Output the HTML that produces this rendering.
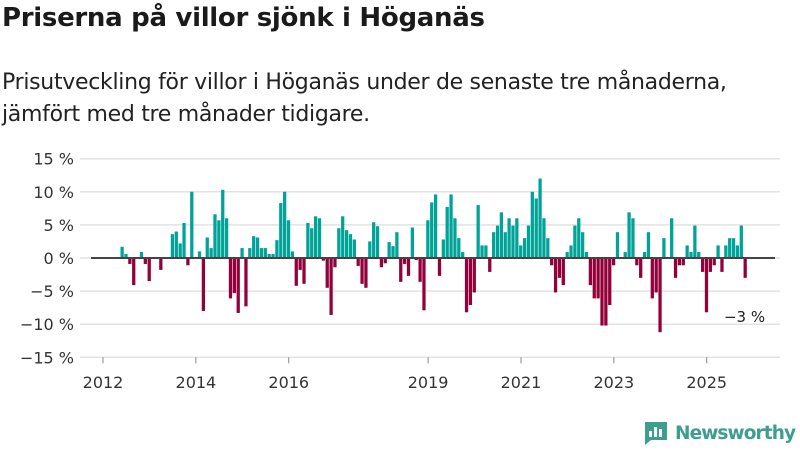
<!DOCTYPE html>
<html><head><meta charset="utf-8">
<style>
body{margin:0;width:800px;height:450px;background:#fff;font-family:"Liberation Sans","DejaVu Sans",sans-serif;overflow:hidden;position:relative}
h1{position:absolute;left:2px;top:3px;margin:0;font-size:26px;font-weight:bold;color:#1a1a1a;font-family:"DejaVu Sans",sans-serif;letter-spacing:-0.3px}
.sub{position:absolute;left:2px;top:67px;margin:0;font-size:22px;line-height:32px;color:#222;font-family:"DejaVu Sans",sans-serif;letter-spacing:-0.3px}
svg{position:absolute;left:0;top:0}
</style></head><body>
<h1>Priserna på villor sjönk i Höganäs</h1>
<p class="sub">Prisutveckling för villor i Höganäs under de senaste tre månaderna,<br>jämfört med tre månader tidigare.</p>
<svg id="chart" width="800" height="450"></svg>
<script>
const startMonth = 4; // May 2012
const values = [1.7,0.6,-0.9,-4.1,0,0.9,-0.9,-3.5,0,0,-1.8,0,0,3.6,4.0,2.2,5.3,-1.1,10,0,1.0,-8.0,3.1,1.5,6.6,5.7,10.3,6.0,-6.1,-5.3,-8.3,1.5,-7.3,1.5,3.3,3.1,1.5,1.5,0.6,0.6,2.7,8.3,10,5.7,1.0,-4.2,-1.8,-3.9,5.3,4.5,6.3,6.0,
-0.4,-4.5,-8.6,-1.4,4.5,6.3,4.2,3.6,2.8,-1.2,-3.9,-4.5,2.5,5.4,4.8,-1.4,-0.8,2.4,1.8,3.9,-3.6,-0.9,-2.7,4.6,-0.3,-3.6,-7.9,5.7,8.4,9.6,-2.7,2.8,7.7,9.6,6.0,3.0,0.9,-8.2,-7.1,-5.2,8.0,1.9,1.9,-2.1,3.9,4.9,6.9,3.9,6.0,4.9,6.0,1.9,3.0,4.9,
10,9,12,6,3,-1.1,-5.2,-3,-4.1,0.9,1.9,4.9,6,3.9,0.9,-4.1,-6.1,-6.1,-10.2,-10.2,-7.1,-1.1,3.9,0,0.9,6.9,6,-1.1,-3,0.9,3.9,-6.1,-5.2,-11.2,3,0,6,-3,-1.1,-1.1,1.9,0.9,4.9,0.9,-2.1,-8.2,-2.1,-1.1,1.9,-2.1,1.9,3,3,1.9,4.9,-3];
const yTicks = [15,10,5,0,-5,-10,-15];
const xTickYears = [2012,2014,2016,2019,2021,2023,2025];
const lastLabel = "−3 %";

const NS="http://www.w3.org/2000/svg";
const svg=document.getElementById('chart');
const x0=103, pxMonth=3.87, y0=258, pxPct=6.62, barShift=2;
const xS=m=>x0+m*pxMonth;
const yS=v=>y0-v*pxPct;
function el(t,a){const e=document.createElementNS(NS,t);for(const k in a)e.setAttribute(k,a[k]);svg.appendChild(e);return e;}
yTicks.forEach(v=>{
  const g=el('line',{x1:80,x2:780,y1:yS(v),y2:yS(v),stroke:'#e2e2e2','stroke-width':1.5});
  
  
  const t=el('text',{x:74,y:yS(v)+6,'text-anchor':'end','font-size':16,fill:'#333','font-family':'DejaVu Sans, sans-serif'});
  t.textContent=(v<0?'−'+(-v):v)+' %';
  
  
});
xTickYears.forEach(yr=>{
  const x=xS((yr-2012)*12);
  const tk=el('line',{x1:x,x2:x,y1:yS(-15),y2:yS(-15)+6,stroke:'#888','stroke-width':1});
  
  
  const t=el('text',{x:x,y:388,'text-anchor':'middle','font-size':16,fill:'#333','font-family':'DejaVu Sans, sans-serif'});
  t.textContent=yr;
  
  
});
values.forEach((v,i)=>{
  if(v===0)return;
  const m=startMonth+i;
  const top=Math.min(yS(v),y0), h=Math.abs(yS(v)-y0);
  const r=el('rect',{x:xS(m)+barShift,y:top,width:pxMonth-0.6,height:h,fill:v>0?'#00a398':'#94003a'});
  
  
});
const z=el('line',{x1:91,x2:775,y1:y0,y2:y0,stroke:'#444','stroke-width':2});


const lm=startMonth+values.length-1;
const lt=el('text',{x:xS(lm)+barShift+1,y:yS(values[values.length-1])+44,'text-anchor':'middle','font-size':15,fill:'#222','font-family':'DejaVu Sans, sans-serif'});
lt.textContent=lastLabel;


</script>
<div style="position:absolute;left:643px;top:420px;display:flex;align-items:center">
<svg width="26" height="26" viewBox="0 0 26 26" style="position:static"><path d="M2 2h22v18H8l-6 5z" fill="#3d9e8e"/><rect x="6" y="11" width="3" height="6" fill="#fff"/><rect x="11" y="7" width="3" height="10" fill="#fff"/><rect x="16" y="9" width="3" height="8" fill="#fff"/></svg>
<span style="font-size:18.5px;font-weight:bold;color:#3d9e8e;margin-left:6px;font-family:'DejaVu Sans',sans-serif;letter-spacing:-0.9px">Newsworthy</span></div>
</body></html>
